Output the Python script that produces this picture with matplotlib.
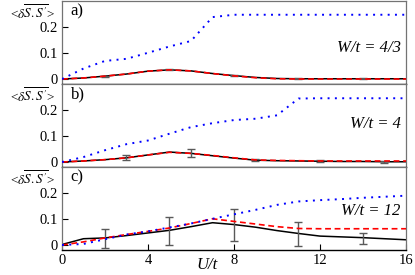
import numpy as np
import matplotlib
matplotlib.use("Agg")
from matplotlib import pyplot as plt

plt.rcParams['font.family'] = ['Liberation Serif', 'DejaVu Serif']
plt.rcParams['mathtext.fontset'] = 'stix'

# U/t grid
U = np.arange(0, 17)

# panel a) W/t = 4/3
blue_a = [0, 0.040, 0.069, 0.077, 0.100, 0.124, 0.145, 0.236, 0.245, 0.245,
          0.245, 0.245, 0.245, 0.245, 0.245, 0.245, 0.245]
black_a = [0, 0.004, 0.011, 0.019, 0.030, 0.035, 0.031, 0.021, 0.013, 0.006,
           0.002, 0.001, 0.001, 0.001, 0.001, 0.001, 0.001]
red_a = [0, 0.004, 0.011, 0.019, 0.030, 0.035, 0.031, 0.021, 0.012, 0.005,
         0.001, 0.000, 0.000, 0.000, 0.000, 0.000, 0.000]
err_u_a = [2, 5, 8, 11, 14]
err_y_a = [0.011, 0.035, 0.013, 0.001, 0.001]
err_e_a = [0.002, 0.002, 0.002, 0.002, 0.002]

# panel b) W/t = 4
blue_b = [0, 0.019, 0.045, 0.068, 0.082, 0.108, 0.133, 0.148, 0.160, 0.165,
          0.178, 0.242, 0.243, 0.243, 0.243, 0.243, 0.243]
black_b = [0, 0.004, 0.009, 0.016, 0.027, 0.038, 0.033, 0.024, 0.015, 0.007,
           0.005, 0.004, 0.003, 0.002, 0.002, 0.001, 0.001]
red_b = [0, 0.004, 0.009, 0.016, 0.027, 0.037, 0.033, 0.025, 0.016, 0.008,
         0.006, 0.005, 0.004, 0.004, 0.004, 0.004, 0.004]
err_u_b = [3, 6, 9, 12, 15]
err_y_b = [0.017, 0.033, 0.007, 0.003, 0.001]
err_e_b = [0.008, 0.015, 0.003, 0.003, 0.003]

# panel c) W/t = 12
blue_c = [0, 0.004, 0.022, 0.040, 0.052, 0.067, 0.082, 0.100, 0.117, 0.134,
          0.153, 0.166, 0.171, 0.175, 0.180, 0.184, 0.188]
black_c = [0.002, 0.024, 0.027, 0.036, 0.046, 0.056, 0.070, 0.085, 0.078, 0.068,
           0.055, 0.044, 0.034, 0.031, 0.028, 0.024, 0.020]
red_c = [0, 0.012, 0.027, 0.040, 0.052, 0.065, 0.082, 0.100, 0.090, 0.080,
         0.070, 0.063, 0.062, 0.062, 0.062, 0.062, 0.062]
err_u_c = [2, 5, 8, 11, 14]
err_y_c = [0.024, 0.054, 0.077, 0.042, 0.025]
err_e_c = [0.036, 0.053, 0.062, 0.046, 0.022]

panels = [
    ('a)', 'W/t = 4/3', blue_a, black_a, red_a, err_u_a, err_y_a, err_e_a),
    ('b)', 'W/t = 4', blue_b, black_b, red_b, err_u_b, err_y_b, err_e_b),
    ('c)', 'W/t = 12', blue_c, black_c, red_c, err_u_c, err_y_c, err_e_c),
]
wt_y = [0.43, 0.52, 0.47]

fig = plt.figure(figsize=(4.15, 2.75), dpi=100)
left, width, h = 0.1494, 0.8289, 0.3015
bottoms = [0.6945, 0.3927, 0.0909]

for k, (tag, wt, blue, black, red, eu, ey, ee) in enumerate(panels):
    ax = fig.add_axes([left, bottoms[k], width, h])
    ax.plot(U, black, color='black', lw=1.1, zorder=2)
    ax.errorbar(eu, ey, yerr=ee, fmt='none', ecolor='0.35', elinewidth=1.0,
                capsize=3, capthick=1.0, zorder=3)
    ax.plot(U, red, color='#ff0000', lw=1.2, ls=(0, (3.5, 2.2)), zorder=4)
    ax.plot(U, blue, color='#0000ff', lw=1.4, ls=(0, (1.0, 2.75)),
            dash_capstyle='butt', zorder=5)

    ax.set_xlim(0, 16)
    ax.set_ylim(-0.019, 0.297)
    ax.set_yticks([0, 0.1, 0.2])
    ax.set_yticklabels(['0', '0.1', '0.2'])
    ax.set_xticks([0, 4, 8, 12, 16])
    ax.tick_params(direction='in', length=4, width=0.8, labelsize=10.5,
                   top=False, right=False, pad=3)
    if k < 2:
        ax.tick_params(axis='x', labelbottom=False, length=0)
    for side in ['left', 'right', 'top']:
        ax.spines[side].set_color('0.45')
        ax.spines[side].set_linewidth(0.9)
    ax.spines['bottom'].set_color('black')
    ax.spines['bottom'].set_linewidth(1.0)

    ax.text(0.025, 0.97, tag, transform=ax.transAxes, fontsize=12,
            va='top', ha='left')
    ax.text(0.985, wt_y[k], wt, transform=ax.transAxes, fontsize=12,
            style='italic', va='center', ha='right')
    ax.text(-0.02, 0.86, r"<$\delta\overline{S.S'}$>", transform=ax.transAxes,
            fontsize=9.5, va='center', ha='right')

fig.text(207 / 415, 1 - 265 / 275, 'U/t', fontsize=12, style='italic',
         ha='center', va='center')

fig.savefig('out.png', dpi=100)
